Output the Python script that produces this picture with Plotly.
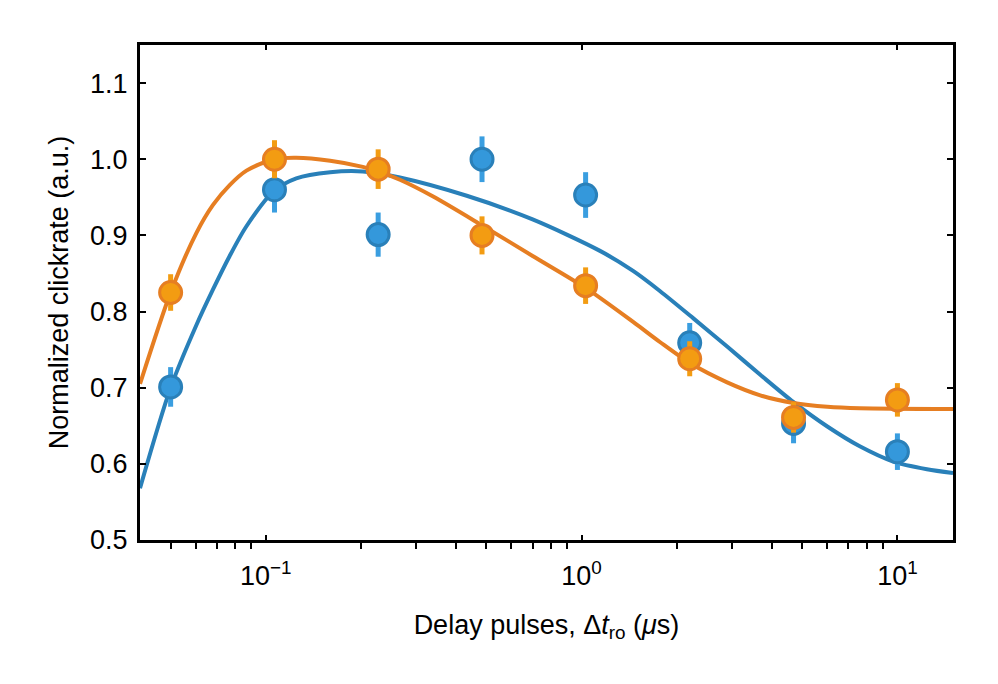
import plotly.graph_objects as go

# measured points (delay in us, normalized clickrate)
delay = [0.05, 0.1066, 0.227, 0.484, 1.03, 2.20, 4.69, 10.0]
blue_rate = [0.701, 0.960, 0.901, 1.000, 0.953, 0.759, 0.653, 0.616]
blue_err = [0.026, 0.030, 0.029, 0.030, 0.030, 0.026, 0.026, 0.024]
orange_rate = [0.825, 1.000, 0.987, 0.900, 0.834, 0.738, 0.661, 0.684]
orange_err = [0.024, 0.025, 0.026, 0.025, 0.024, 0.023, 0.020, 0.022]

# fit curves
blue_fit_x = [0.04, 0.05, 0.0603, 0.0681, 0.0769, 0.0869, 0.106, 0.125, 0.16, 0.203,
              0.266, 0.433, 0.70, 1.14, 1.46, 1.77, 2.26, 2.89, 3.68, 4.69, 6.0, 7.6, 9.7, 12.4, 15.0]
blue_fit_y = [0.568, 0.700, 0.782, 0.829, 0.873, 0.912, 0.958, 0.975, 0.983, 0.984,
              0.976, 0.952, 0.921, 0.880, 0.853, 0.827, 0.791, 0.754, 0.717, 0.681, 0.649, 0.623, 0.603, 0.593, 0.588]
orange_fit_x = [0.04, 0.05, 0.0603, 0.0681, 0.0769, 0.0869, 0.106, 0.125, 0.16, 0.203, 0.227,
                0.266, 0.339, 0.485, 0.70, 1.03, 1.46, 1.77, 2.21, 2.89, 3.68, 4.69, 6.0, 7.6, 15.0]
orange_fit_y = [0.705, 0.825, 0.903, 0.940, 0.966, 0.985, 1.000, 1.002, 0.998, 0.990, 0.984,
                0.973, 0.951, 0.913, 0.873, 0.831, 0.786, 0.760, 0.732, 0.707, 0.690, 0.680, 0.675, 0.673, 0.672]

major_ticks = [0.1, 1, 10]
major_text = ["10<sup>−1</sup>", "10<sup>0</sup>", "10<sup>1</sup>"]
minor_ticks = [0.04, 0.05, 0.06, 0.07, 0.08, 0.09, 0.2, 0.3, 0.4, 0.5, 0.6, 0.7, 0.8, 0.9,
               2, 3, 4, 5, 6, 7, 8, 9]
y_ticks = [0.5, 0.6, 0.7, 0.8, 0.9, 1.0, 1.1]
y_text = ["0.5", "0.6", "0.7", "0.8", "0.9", "1.0", "1.1"]

font = "Liberation Sans, Arial, Helvetica, sans-serif"

fig = go.Figure()

fig.add_trace(go.Scatter(x=blue_fit_x, y=blue_fit_y, mode="lines",
                         line=dict(color="#2980b9", width=4, shape="spline", smoothing=0.8),
                         showlegend=False))
fig.add_trace(go.Scatter(x=orange_fit_x, y=orange_fit_y, mode="lines",
                         line=dict(color="#e67e22", width=4, shape="spline", smoothing=0.8),
                         showlegend=False))

fig.add_trace(go.Scatter(
    x=delay, y=blue_rate, mode="markers",
    error_y=dict(type="data", array=blue_err, width=0, thickness=5, color="#3a9ee0"),
    marker=dict(size=22, color="#3498db", line=dict(color="#2a80b9", width=3)),
    showlegend=False))
fig.add_trace(go.Scatter(
    x=delay, y=orange_rate, mode="markers",
    error_y=dict(type="data", array=orange_err, width=0, thickness=5, color="#f39c12"),
    marker=dict(size=22, color="#f39c12", line=dict(color="#e67e22", width=3)),
    showlegend=False))

# top axis: only major ticks, pointing in
fig.add_trace(go.Scatter(x=[1], y=[None], xaxis="x2", showlegend=False, hoverinfo="skip"))

xrange = [-1.398, 1.176]

# page body has an 8px margin, so the figure is a bit smaller than the window
fig.update_layout(
    width=990, height=676,
    paper_bgcolor="white", plot_bgcolor="white",
    margin=dict(l=132, r=45, t=37, b=144),
    font=dict(family=font, size=27, color="black"),
    xaxis=dict(
        type="log", range=xrange,
        tickmode="array", tickvals=major_ticks, ticktext=major_text,
        ticks="inside", ticklen=5, tickwidth=2, tickcolor="black",
        minor=dict(tickmode="array", tickvals=minor_ticks, ticks="outside",
                   ticklen=6, tickwidth=2, tickcolor="black", showgrid=False),
        showline=True, linewidth=3, linecolor="black", mirror=True,
        showgrid=False, zeroline=False,
        ticklabelstandoff=10,
        title=dict(text="Delay pulses, Δ<i>t</i><sub>ro</sub> (<i>μ</i>s)", standoff=25,
                   font=dict(size=27)),
    ),
    xaxis2=dict(
        type="log", range=xrange, overlaying="x", side="top",
        tickmode="array", tickvals=major_ticks,
        ticks="inside", ticklen=5, tickwidth=2, tickcolor="black",
        showticklabels=False, showgrid=False, showline=False, zeroline=False,
    ),
    yaxis=dict(
        range=[0.5, 1.15],
        tickmode="array", tickvals=y_ticks, ticktext=y_text,
        ticks="inside", ticklen=6, tickwidth=2, tickcolor="black",
        showline=True, linewidth=3, linecolor="black", mirror="ticks",
        showgrid=False, zeroline=False,
        ticklabelstandoff=4,
        title=dict(text="Normalized clickrate (a.u.)", standoff=14, font=dict(size=27)),
    ),
)

fig.write_html("out.html")
